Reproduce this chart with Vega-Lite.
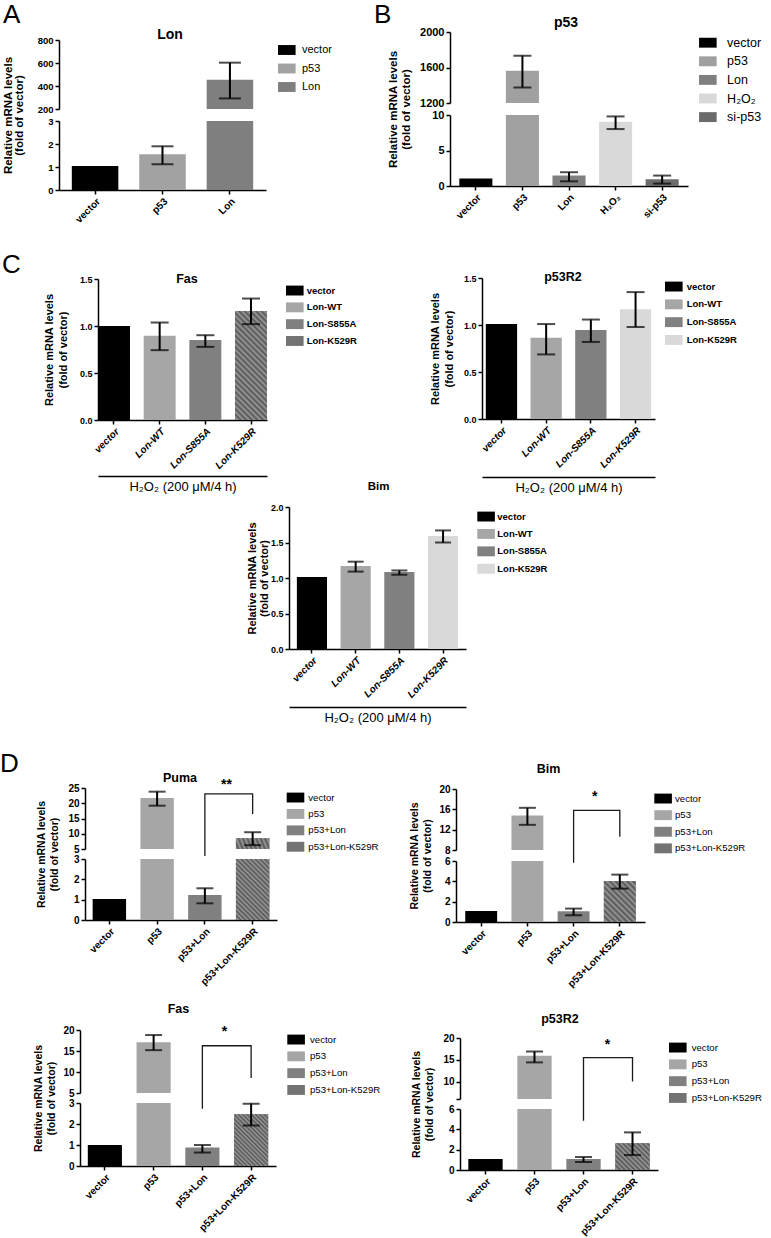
{
"$schema":"https://vega.github.io/schema/vega-lite/v6.json",
"background":"white",
"padding":0,
"config":{
 "font":"Liberation Sans",
 "view":{"stroke":null},
 "axis":{"grid":false,"domainColor":"#000000","domainWidth":1.5,"tickColor":"#000000","tickWidth":1.5,"tickSize":4,"labelColor":"#000000","labelFont":"Liberation Sans","labelFontWeight":"bold","labelFontSize":10,"labelPadding":2,"titleColor":"#000000","titleFont":"Liberation Sans","titleFontWeight":"bold","titleFontSize":11,"titleLineHeight":13,"labelOverlap":false},
 "legend":{"labelColor":"#000000","labelFont":"Liberation Sans","symbolStrokeWidth":0,"symbolOpacity":1,"labelLimit":300,"padding":0},
 "title":{"color":"#000000","font":"Liberation Sans","fontWeight":"bold","fontSize":13,"anchor":"middle","frame":"group","baseline":"alphabetic"},
 "bar":{"stroke":null},
 "tick":{"color":"#000000"},
 "rule":{"color":"#000000"},
 "text":{"font":"Liberation Sans","color":"#000000"}
},
"datasets":{
"A":[{"g":"vector","v":1.04},{"g":"p53","v":1.55,"lo":1.12,"hi":1.9},{"g":"Lon","v":454,"lo":292,"hi":603}],
"B":[{"g":"vector","v":1.05},{"g":"p53","v":1564,"lo":1376,"hi":1733},{"g":"Lon","v":1.47,"lo":0.66,"hi":1.94},{"g":"H₂O₂","v":9.05,"lo":8.02,"hi":9.8},{"g":"si-p53","v":0.95,"lo":0.34,"hi":1.47}],
"CFas":[{"g":"vector","v":1.0},{"g":"Lon-WT","v":0.895,"lo":0.743,"hi":1.037},{"g":"Lon-S855A","v":0.852,"lo":0.778,"hi":0.902},{"g":"Lon-K529R","v":1.16,"lo":1.02,"hi":1.292}],
"Cp53R2":[{"g":"vector","v":1.01},{"g":"Lon-WT","v":0.864,"lo":0.687,"hi":1.01},{"g":"Lon-S855A","v":0.948,"lo":0.82,"hi":1.058},{"g":"Lon-K529R","v":1.167,"lo":0.979,"hi":1.35}],
"CBim":[{"g":"vector","v":1.013},{"g":"Lon-WT","v":1.17,"lo":1.09,"hi":1.23},{"g":"Lon-S855A","v":1.085,"lo":1.046,"hi":1.106},{"g":"Lon-K529R","v":1.59,"lo":1.5,"hi":1.67}],
"Puma":[{"g":"vector","v":1.03},{"g":"p53","v":21.7,"lo":19.2,"hi":23.8},{"g":"p53+Lon","v":1.23,"lo":0.82,"hi":1.56},{"g":"p53+Lon-K529R","v":8.55,"lo":6.25,"hi":10.5}],
"PumaBr":[{"g":"p53+Lon","y":2.7,"o":1},{"g":"p53+Lon","y":23.1,"o":2},{"g":"p53+Lon-K529R","y":23.1,"o":3},{"g":"p53+Lon-K529R","y":16.5,"o":4}],
"PumaSig":[{"g":"p53+Lon","y":25.9,"t":"**"}],
"DBim":[{"g":"vector","v":1.08},{"g":"p53","v":14.8,"lo":12.95,"hi":16.3},{"g":"p53+Lon","v":1.05,"lo":0.66,"hi":1.32},{"g":"p53+Lon-K529R","v":4.03,"lo":3.28,"hi":4.66}],
"DBimBr":[{"g":"p53+Lon","y":5.5,"o":1},{"g":"p53+Lon","y":15.8,"o":2},{"g":"p53+Lon-K529R","y":15.8,"o":3},{"g":"p53+Lon-K529R","y":10.6,"o":4}],
"DBimSig":[{"g":"p53+Lon","y":18.5,"t":"*"}],
"DFas":[{"g":"vector","v":1.0},{"g":"p53","v":17.06,"lo":15.2,"hi":18.8},{"g":"p53+Lon","v":0.88,"lo":0.64,"hi":1.0},{"g":"p53+Lon-K529R","v":2.47,"lo":1.93,"hi":2.97}],
"DFasBr":[{"g":"p53+Lon","y":1.27,"o":1},{"g":"p53+Lon","y":16.25,"o":2},{"g":"p53+Lon-K529R","y":16.25,"o":3},{"g":"p53+Lon-K529R","y":8.6,"o":4}],
"DFasSig":[{"g":"p53+Lon","y":19.5,"t":"*"}],
"Dp53R2":[{"g":"vector","v":1.08},{"g":"p53","v":15.9,"lo":14.4,"hi":16.9},{"g":"p53+Lon","v":1.08,"lo":0.79,"hi":1.28},{"g":"p53+Lon-K529R","v":2.62,"lo":1.47,"hi":3.7}],
"Dp53R2Br":[{"g":"p53+Lon","y":1.0,"o":1},{"g":"p53+Lon","y":15.5,"o":2},{"g":"p53+Lon-K529R","y":15.5,"o":3},{"g":"p53+Lon-K529R","y":10.0,"o":4}],
"Dp53R2Sig":[{"g":"p53+Lon","y":18.3,"t":"*"}]
},
"bounds":"flush","spacing":0,"columns":2,"align":"each",
"resolve":{"scale":{"color":"independent"}},
"concat":[
{"width":2,"height":2,"data":{"values":[{"t":"A"}]},"mark":{"type":"text","fontSize":26,"align":"left","baseline":"alphabetic","dx":2,"dy":22},"encoding":{"text":{"field":"t"}}},
{"width":2,"height":2,"data":{"values":[{"t":"B"}]},"mark":{"type":"text","fontSize":26,"align":"left","baseline":"alphabetic","dx":-77,"dy":22},"encoding":{"text":{"field":"t"}}},

{"width":266,"height":107,"data":{"name":"A"},
 "title":{"text":"Lon","fontSize":14,"offset":-40.1,"dx":37},
 "encoding":{"x":{"field":"g","type":"nominal","sort":null,"scale":{"domain":["vector","p53","Lon"],"range":[59,266],"paddingInner":0.31,"paddingOuter":0.19},"axis":null}},
 "layer":[
  {"mark":{"type":"bar","clip":true},"encoding":{"y":{"field":"v","type":"quantitative","scale":{"domain":[200,800],"range":[107,38],"nice":false,"zero":false},"axis":{"values":[200,400,600,800],"tickCount":20,"format":"d","labelOverlap":false,"title":null,"labelFontSize":9.5,"offset":-59}},
    "color":{"field":"g","type":"nominal","title":null,"scale":{"domain":["vector","p53","Lon"],"range":["#000000","#a2a2a2","#7f7f7f"]},"legend":{"orient":"none","legendX":281.3,"legendY":42.5,"rowPadding":6.5,"labelOffset":9.7,"labelFontSize":11,"labelFontWeight":"normal","symbolType":"M-1.6,-0.9H1.6V0.9H-1.6Z","symbolSize":121}}}},
  {"mark":{"type":"rule","clip":true,"strokeWidth":2},"encoding":{"y":{"field":"lo","type":"quantitative","scale":{"domain":[200,800],"range":[107,38],"nice":false,"zero":false}},"y2":{"field":"hi"}}},
  {"mark":{"type":"tick","clip":true,"thickness":2,"size":22},"encoding":{"y":{"field":"lo","type":"quantitative","scale":{"domain":[200,800],"range":[107,38],"nice":false,"zero":false}}}},
  {"mark":{"type":"tick","clip":true,"thickness":2,"size":22},"encoding":{"y":{"field":"hi","type":"quantitative","scale":{"domain":[200,800],"range":[107,38],"nice":false,"zero":false}}}}
 ]},
{"width":238,"height":101,"data":{"name":"B"},
 "title":{"text":"p53","fontSize":14,"offset":-27.8,"dx":-3},
 "encoding":{"x":{"field":"g","type":"nominal","sort":null,"scale":{"domain":["vector","p53","Lon","H₂O₂","si-p53"],"range":[0,238],"paddingInner":0.29,"paddingOuter":0.2},"axis":null}},
 "layer":[
  {"mark":{"type":"bar","clip":true},"encoding":{"y":{"field":"v","type":"quantitative","scale":{"domain":[1200,2000],"range":[101,30],"nice":false,"zero":false},"axis":{"values":[1200,1600,2000],"tickCount":20,"format":"d","labelOverlap":false,"title":null,"labelFontSize":11}},
    "color":{"field":"g","type":"nominal","title":null,"scale":{"domain":["vector","p53","Lon","H₂O₂","si-p53"],"range":["#000000","#a0a0a0","#7f7f7f","#d9d9d9","#6b6b6b"]},"legend":{"orient":"none","legendX":251.6,"legendY":34.45,"rowPadding":5.6,"labelOffset":13,"labelFontSize":12.5,"labelFontWeight":"normal","symbolType":"M-1.6,-0.9H1.6V0.9H-1.6Z","symbolSize":121}}}},
  {"mark":{"type":"rule","clip":true,"strokeWidth":2},"encoding":{"y":{"field":"lo","type":"quantitative","scale":{"domain":[1200,2000],"range":[101,30],"nice":false,"zero":false}},"y2":{"field":"hi"}}},
  {"mark":{"type":"tick","clip":true,"thickness":2,"size":18},"encoding":{"y":{"field":"lo","type":"quantitative","scale":{"domain":[1200,2000],"range":[101,30],"nice":false,"zero":false}}}},
  {"mark":{"type":"tick","clip":true,"thickness":2,"size":18},"encoding":{"y":{"field":"hi","type":"quantitative","scale":{"domain":[1200,2000],"range":[101,30],"nice":false,"zero":false}}}}
 ]},

{"width":266,"height":81,"data":{"name":"A"},
 "encoding":{"x":{"field":"g","type":"nominal","sort":null,"scale":{"domain":["vector","p53","Lon"],"range":[59,266],"paddingInner":0.31,"paddingOuter":0.19},"axis":{"labelAngle":-45,"title":null,"labelFontSize":10}}},
 "layer":[
  {"mark":{"type":"bar"},"encoding":{"y":{"field":"v","type":"quantitative","scale":{"domain":[0,3],"range":[81,12],"nice":false,"clamp":true},"axis":{"values":[0,1,2,3],"tickCount":20,"format":"d","labelOverlap":false,"labelFontSize":9.5,"offset":-59,"title":["Relative mRNA levels","(fold of vector)"],"titleX":-46,"titleY":6,"titleFontSize":11.5,"titleLineHeight":11}},
    "color":{"field":"g","type":"nominal","scale":{"domain":["vector","p53","Lon"],"range":["#000000","#a2a2a2","#7f7f7f"]},"legend":null}}},
  {"transform":[{"filter":"datum.hi <= 3"}],"mark":{"type":"rule","strokeWidth":2},"encoding":{"y":{"field":"lo","type":"quantitative","scale":{"domain":[0,3],"range":[81,12],"nice":false,"clamp":true}},"y2":{"field":"hi"}}},
  {"transform":[{"filter":"datum.hi <= 3"}],"mark":{"type":"tick","thickness":2,"size":22},"encoding":{"y":{"field":"lo","type":"quantitative","scale":{"domain":[0,3],"range":[81,12],"nice":false,"clamp":true}}}},
  {"transform":[{"filter":"datum.hi <= 3"}],"mark":{"type":"tick","thickness":2,"size":22},"encoding":{"y":{"field":"hi","type":"quantitative","scale":{"domain":[0,3],"range":[81,12],"nice":false,"clamp":true}}}}
 ]},
{"width":238,"height":77,"data":{"name":"B"},
 "encoding":{"x":{"field":"g","type":"nominal","sort":null,"scale":{"domain":["vector","p53","Lon","H₂O₂","si-p53"],"range":[0,238],"paddingInner":0.29,"paddingOuter":0.2},"axis":{"labelAngle":-45,"title":null,"labelFontSize":10}}},
 "layer":[
  {"mark":{"type":"bar"},"encoding":{"y":{"field":"v","type":"quantitative","scale":{"domain":[0,10],"range":[77,6],"nice":false,"clamp":true},"axis":{"values":[0,5,10],"tickCount":20,"format":"d","labelOverlap":false,"labelFontSize":11,"title":["Relative mRNA levels","(fold of vector)"],"titleX":-51.5,"titleY":0,"titleFontSize":11.5}},
    "color":{"field":"g","type":"nominal","scale":{"domain":["vector","p53","Lon","H₂O₂","si-p53"],"range":["#000000","#a0a0a0","#7f7f7f","#d9d9d9","#6b6b6b"]},"legend":null}}},
  {"transform":[{"filter":"datum.hi <= 10"}],"mark":{"type":"rule","strokeWidth":2},"encoding":{"y":{"field":"lo","type":"quantitative","scale":{"domain":[0,10],"range":[77,6],"nice":false,"clamp":true}},"y2":{"field":"hi"}}},
  {"transform":[{"filter":"datum.hi <= 10"}],"mark":{"type":"tick","thickness":2,"size":18},"encoding":{"y":{"field":"lo","type":"quantitative","scale":{"domain":[0,10],"range":[77,6],"nice":false,"clamp":true}}}},
  {"transform":[{"filter":"datum.hi <= 10"}],"mark":{"type":"tick","thickness":2,"size":18},"encoding":{"y":{"field":"hi","type":"quantitative","scale":{"domain":[0,10],"range":[77,6],"nice":false,"clamp":true}}}}
 ]},

{"width":2,"height":2,"data":{"values":[{"t":"C"}]},"mark":{"type":"text","fontSize":26,"align":"left","baseline":"alphabetic","dx":1,"dy":82},"encoding":{"text":{"field":"t"}}},
{"width":1,"height":1,"data":{"values":[]},"mark":"point"},

{"width":267,"height":228,"data":{"name":"CFas"},
 "title":{"text":"Fas","fontSize":12.5,"offset":-93.8,"dx":53.5},
 "resolve":{"axis":{"x":"independent"}},
 "layer":[
  {"encoding":{"x":{"field":"g","type":"nominal","sort":null,"scale":{"domain":["vector","Lon-WT","Lon-S855A","Lon-K529R"],"range":[98,267],"paddingInner":0.3,"paddingOuter":0},"axis":{"labelAngle":-45,"title":null,"labelFontSize":10,"labelFontStyle":"italic"}}},
   "layer":[
    {"mark":{"type":"bar"},"encoding":{"y":{"field":"v","type":"quantitative","scale":{"domain":[0,1.5],"range":[228,87],"nice":false},"axis":{"values":[0,0.5,1,1.5],"tickCount":20,"labelOverlap":false,"format":".1f","labelFontSize":9,"offset":-98,"title":["Relative mRNA levels","(fold of vector)"],"titleX":-43.5,"titleFontSize":11,"titleLineHeight":13.5}},
      "color":{"field":"g","type":"nominal","title":null,"scale":{"domain":["vector","Lon-WT","Lon-S855A","Lon-K529R"],"range":["#000000","#a6a6a6","#808080","#737373"]},"legend":{"orient":"none","legendX":289.3,"legendY":93.05,"rowPadding":5.8,"labelOffset":6.4,"labelFontSize":9.5,"labelFontWeight":"bold","symbolType":"M-1.6,-0.9H1.6V0.9H-1.6Z","symbolSize":121}}}},
    {"transform":[{"filter":"datum.g == 'Lon-K529R'"}],"mark":{"type":"bar","color":{"gradient":"linear","x1":0,"y1":1,"x2":0.3496,"y2":-0.1909,"stops":[{"offset":0,"color":"#555"},{"offset":0.02,"color":"#999"},{"offset":0.04,"color":"#555"},{"offset":0.06,"color":"#999"},{"offset":0.08,"color":"#555"},{"offset":0.1,"color":"#999"},{"offset":0.12,"color":"#555"},{"offset":0.14,"color":"#999"},{"offset":0.16,"color":"#555"},{"offset":0.18,"color":"#999"},{"offset":0.2,"color":"#555"},{"offset":0.22,"color":"#999"},{"offset":0.24,"color":"#555"},{"offset":0.26,"color":"#999"},{"offset":0.28,"color":"#555"},{"offset":0.3,"color":"#999"},{"offset":0.32,"color":"#555"},{"offset":0.34,"color":"#999"},{"offset":0.36,"color":"#555"},{"offset":0.38,"color":"#999"},{"offset":0.4,"color":"#555"},{"offset":0.42,"color":"#999"},{"offset":0.44,"color":"#555"},{"offset":0.46,"color":"#999"},{"offset":0.48,"color":"#555"},{"offset":0.5,"color":"#999"},{"offset":0.52,"color":"#555"},{"offset":0.54,"color":"#999"},{"offset":0.56,"color":"#555"},{"offset":0.58,"color":"#999"},{"offset":0.6,"color":"#555"},{"offset":0.62,"color":"#999"},{"offset":0.64,"color":"#555"},{"offset":0.66,"color":"#999"},{"offset":0.68,"color":"#555"},{"offset":0.7,"color":"#999"},{"offset":0.72,"color":"#555"},{"offset":0.74,"color":"#999"},{"offset":0.76,"color":"#555"},{"offset":0.78,"color":"#999"},{"offset":0.8,"color":"#555"},{"offset":0.82,"color":"#999"},{"offset":0.84,"color":"#555"},{"offset":0.86,"color":"#999"},{"offset":0.88,"color":"#555"},{"offset":0.9,"color":"#999"},{"offset":0.92,"color":"#555"},{"offset":0.94,"color":"#999"},{"offset":0.96,"color":"#555"},{"offset":0.98,"color":"#999"},{"offset":1,"color":"#555"}]}},
     "encoding":{"y":{"field":"v","type":"quantitative","scale":{"domain":[0,1.5],"range":[228,87],"nice":false}}}},
    {"mark":{"type":"tick","thickness":2,"size":18},"encoding":{"y":{"field":"lo","type":"quantitative","scale":{"domain":[0,1.5],"range":[228,87],"nice":false}}}},
    {"mark":{"type":"tick","thickness":2,"size":18},"encoding":{"y":{"field":"hi","type":"quantitative","scale":{"domain":[0,1.5],"range":[228,87],"nice":false}}}}
   ]},
  {"mark":{"type":"rule","strokeWidth":2},"encoding":{"x":{"field":"g","type":"nominal","sort":null,"scale":{"domain":["vector","Lon-WT","Lon-S855A","Lon-K529R"],"range":[98,267],"paddingInner":0.3,"paddingOuter":0},"axis":{"orient":"bottom","offset":56,"labels":false,"ticks":false,"title":"H₂O₂ (200 μM/4 h)","titleFontWeight":"normal","titleFontSize":13,"titlePadding":4}},
    "y":{"field":"lo","type":"quantitative","scale":{"domain":[0,1.5],"range":[228,87],"nice":false}},"y2":{"field":"hi"}}}
 ]},
{"width":205,"height":227,"data":{"name":"Cp53R2"},
 "title":{"text":"p53R2","fontSize":12.5,"offset":-91.5,"dx":10.5},
 "resolve":{"axis":{"x":"independent"}},
 "layer":[
  {"encoding":{"x":{"field":"g","type":"nominal","sort":null,"scale":{"domain":["vector","Lon-WT","Lon-S855A","Lon-K529R"],"range":[32,205],"paddingInner":0.3,"paddingOuter":0.085},"axis":{"labelAngle":-45,"title":null,"labelFontSize":10,"labelFontStyle":"italic"}}},
   "layer":[
    {"mark":{"type":"bar"},"encoding":{"y":{"field":"v","type":"quantitative","scale":{"domain":[0,1.5],"range":[227,86],"nice":false},"axis":{"values":[0,0.5,1,1.5],"tickCount":20,"labelOverlap":false,"format":".1f","labelFontSize":9,"offset":-32,"title":["Relative mRNA levels","(fold of vector)"],"titleX":-41.5,"titleFontSize":11,"titleLineHeight":13.5}},
      "color":{"field":"g","type":"nominal","title":null,"scale":{"domain":["vector","Lon-WT","Lon-S855A","Lon-K529R"],"range":["#000000","#a6a6a6","#808080","#d9d9d9"]},"legend":{"orient":"none","legendX":218.3,"legendY":89.05,"rowPadding":6.8,"labelOffset":7.4,"labelFontSize":9.5,"labelFontWeight":"bold","symbolType":"M-1.6,-0.9H1.6V0.9H-1.6Z","symbolSize":121}}}},
    {"mark":{"type":"tick","thickness":2,"size":18},"encoding":{"y":{"field":"lo","type":"quantitative","scale":{"domain":[0,1.5],"range":[227,86],"nice":false}}}},
    {"mark":{"type":"tick","thickness":2,"size":18},"encoding":{"y":{"field":"hi","type":"quantitative","scale":{"domain":[0,1.5],"range":[227,86],"nice":false}}}}
   ]},
  {"mark":{"type":"rule","strokeWidth":2},"encoding":{"x":{"field":"g","type":"nominal","sort":null,"scale":{"domain":["vector","Lon-WT","Lon-S855A","Lon-K529R"],"range":[32,205],"paddingInner":0.3,"paddingOuter":0.085},"axis":{"orient":"bottom","offset":58,"labels":false,"ticks":false,"title":"H₂O₂ (200 μM/4 h)","titleFontWeight":"normal","titleFontSize":13,"titlePadding":4}},
    "y":{"field":"lo","type":"quantitative","scale":{"domain":[0,1.5],"range":[227,86],"nice":false}},"y2":{"field":"hi"}}}
 ]},

{"width":450,"height":229,"data":{"name":"CBim"},
 "title":{"text":"Bim","fontSize":11.5,"offset":-72.3,"dx":153.5},
 "resolve":{"axis":{"x":"independent"}},
 "layer":[
  {"encoding":{"x":{"field":"g","type":"nominal","sort":null,"scale":{"domain":["vector","Lon-WT","Lon-S855A","Lon-K529R"],"range":[289,466],"paddingInner":0.31,"paddingOuter":0.18},"axis":{"labelAngle":-45,"title":null,"labelFontSize":10,"labelFontStyle":"italic"}}},
   "layer":[
    {"mark":{"type":"bar"},"encoding":{"y":{"field":"v","type":"quantitative","scale":{"domain":[0,2],"range":[229,87],"nice":false},"axis":{"values":[0,0.5,1,1.5,2],"tickCount":20,"labelOverlap":false,"format":".1f","labelFontSize":9,"offset":-289,"title":["Relative mRNA levels","(fold of vector)"],"titleX":-31.8,"titleFontSize":11,"titleLineHeight":12}},
      "color":{"field":"g","type":"nominal","title":null,"scale":{"domain":["vector","Lon-WT","Lon-S855A","Lon-K529R"],"range":["#000000","#a6a6a6","#808080","#d9d9d9"]},"legend":{"orient":"none","legendX":480.6,"legendY":91.05,"rowPadding":6.4,"labelOffset":5.7,"labelFontSize":9.5,"labelFontWeight":"bold","symbolType":"M-1.6,-0.9H1.6V0.9H-1.6Z","symbolSize":121}}}},
    {"mark":{"type":"tick","thickness":2,"size":16},"encoding":{"y":{"field":"lo","type":"quantitative","scale":{"domain":[0,2],"range":[229,87],"nice":false}}}},
    {"mark":{"type":"tick","thickness":2,"size":16},"encoding":{"y":{"field":"hi","type":"quantitative","scale":{"domain":[0,2],"range":[229,87],"nice":false}}}}
   ]},
  {"mark":{"type":"rule","strokeWidth":2},"encoding":{"x":{"field":"g","type":"nominal","sort":null,"scale":{"domain":["vector","Lon-WT","Lon-S855A","Lon-K529R"],"range":[289,466],"paddingInner":0.31,"paddingOuter":0.18},"axis":{"orient":"bottom","offset":58,"labels":false,"ticks":false,"title":"H₂O₂ (200 μM/4 h)","titleFontWeight":"normal","titleFontSize":13,"titlePadding":4}},
    "y":{"field":"lo","type":"quantitative","scale":{"domain":[0,2],"range":[229,87],"nice":false}},"y2":{"field":"hi"}}}
 ]},
{"width":1,"height":1,"data":{"values":[]},"mark":"point"},

{"width":2,"height":2,"data":{"values":[{"t":"D"}]},"mark":{"type":"text","fontSize":26,"align":"left","baseline":"alphabetic","dx":-1,"dy":122},"encoding":{"text":{"field":"t"}}},
{"width":1,"height":1,"data":{"values":[]},"mark":"point"},

{"width":277,"height":198,"data":{"name":"Puma"},
 "title":{"text":"Puma","fontSize":12.5,"offset":-133.8,"dx":41.5},
 "encoding":{"x":{"field":"g","type":"nominal","sort":null,"scale":{"domain":["vector","p53","p53+Lon","p53+Lon-K529R"],"range":[85,277],"paddingInner":0.3,"paddingOuter":0.16},"axis":null}},
 "layer":[
  {"mark":{"type":"bar","clip":true},"encoding":{"y":{"field":"v","type":"quantitative","scale":{"domain":[5,25],"range":[198,137],"nice":false,"zero":false},"axis":{"values":[5,10,15,20,25],"tickCount":20,"format":"d","labelOverlap":false,"title":null,"labelFontSize":10,"offset":-85}},
    "color":{"field":"g","type":"nominal","title":null,"scale":{"domain":["vector","p53","p53+Lon","p53+Lon-K529R"],"range":["#000000","#a6a6a6","#808080","#737373"]},"legend":{"orient":"none","legendX":290,"legendY":141.05,"rowPadding":5.4,"labelOffset":7.3,"labelFontSize":9.6,"labelFontWeight":"normal","symbolType":"M-1.6,-0.9H1.6V0.9H-1.6Z","symbolSize":121}}}},
  {"transform":[{"filter":"datum.g == 'p53+Lon-K529R'"}],"mark":{"type":"bar","clip":true,"color":{"gradient":"linear","x1":0,"y1":1,"x2":1.1981,"y2":0.6126,"stops":[{"offset":0,"color":"#555"},{"offset":0.05,"color":"#999"},{"offset":0.1,"color":"#555"},{"offset":0.15,"color":"#999"},{"offset":0.2,"color":"#555"},{"offset":0.25,"color":"#999"},{"offset":0.3,"color":"#555"},{"offset":0.35,"color":"#999"},{"offset":0.4,"color":"#555"},{"offset":0.45,"color":"#999"},{"offset":0.5,"color":"#555"},{"offset":0.55,"color":"#999"},{"offset":0.6,"color":"#555"},{"offset":0.65,"color":"#999"},{"offset":0.7,"color":"#555"},{"offset":0.75,"color":"#999"},{"offset":0.8,"color":"#555"},{"offset":0.85,"color":"#999"},{"offset":0.9,"color":"#555"},{"offset":0.95,"color":"#999"},{"offset":1,"color":"#555"}]}},
   "encoding":{"y":{"field":"v","type":"quantitative","scale":{"domain":[5,25],"range":[198,137],"nice":false,"zero":false}}}},
  {"mark":{"type":"rule","clip":true,"strokeWidth":2},"encoding":{"y":{"field":"lo","type":"quantitative","scale":{"domain":[5,25],"range":[198,137],"nice":false,"zero":false}},"y2":{"field":"hi"}}},
  {"mark":{"type":"tick","clip":true,"thickness":2,"size":17},"encoding":{"y":{"field":"lo","type":"quantitative","scale":{"domain":[5,25],"range":[198,137],"nice":false,"zero":false}}}},
  {"mark":{"type":"tick","clip":true,"thickness":2,"size":17},"encoding":{"y":{"field":"hi","type":"quantitative","scale":{"domain":[5,25],"range":[198,137],"nice":false,"zero":false}}}},
  {"data":{"name":"PumaBr"},"mark":{"type":"line","strokeWidth":1.3,"color":"#1a1a1a"},"encoding":{"y":{"field":"y","type":"quantitative","scale":{"domain":[5,25],"range":[198,137],"nice":false,"zero":false}},"order":{"field":"o","type":"quantitative"}}},
  {"data":{"name":"PumaSig"},"mark":{"type":"text","fontSize":14,"fontWeight":"bold","dx":21.5,"baseline":"middle"},"encoding":{"y":{"field":"y","type":"quantitative","scale":{"domain":[5,25],"range":[198,137],"nice":false,"zero":false}},"text":{"field":"t"}}}
 ]},
{"width":195,"height":199,"data":{"name":"DBim"},
 "title":{"text":"Bim","fontSize":12.5,"offset":-124.2,"dx":1},
 "encoding":{"x":{"field":"g","type":"nominal","sort":null,"scale":{"domain":["vector","p53","p53+Lon","p53+Lon-K529R"],"range":[6,195],"paddingInner":0.31,"paddingOuter":0.2},"axis":null}},
 "layer":[
  {"mark":{"type":"bar","clip":true},"encoding":{"y":{"field":"v","type":"quantitative","scale":{"domain":[8,20],"range":[199,138],"nice":false,"zero":false},"axis":{"values":[8,12,16,20],"tickCount":20,"format":"d","labelOverlap":false,"title":null,"labelFontSize":10,"offset":-6}},
    "color":{"field":"g","type":"nominal","title":null,"scale":{"domain":["vector","p53","p53+Lon","p53+Lon-K529R"],"range":["#000000","#a6a6a6","#808080","#737373"]},"legend":{"orient":"none","legendX":207.6,"legendY":142.05,"rowPadding":5.6,"labelOffset":6.4,"labelFontSize":9.6,"labelFontWeight":"normal","symbolType":"M-1.6,-0.9H1.6V0.9H-1.6Z","symbolSize":121}}}},
  {"mark":{"type":"rule","clip":true,"strokeWidth":2},"encoding":{"y":{"field":"lo","type":"quantitative","scale":{"domain":[8,20],"range":[199,138],"nice":false,"zero":false}},"y2":{"field":"hi"}}},
  {"mark":{"type":"tick","clip":true,"thickness":2,"size":17},"encoding":{"y":{"field":"lo","type":"quantitative","scale":{"domain":[8,20],"range":[199,138],"nice":false,"zero":false}}}},
  {"mark":{"type":"tick","clip":true,"thickness":2,"size":17},"encoding":{"y":{"field":"hi","type":"quantitative","scale":{"domain":[8,20],"range":[199,138],"nice":false,"zero":false}}}},
  {"data":{"name":"DBimBr"},"mark":{"type":"line","strokeWidth":1.3,"color":"#1a1a1a"},"encoding":{"y":{"field":"y","type":"quantitative","scale":{"domain":[8,20],"range":[199,138],"nice":false,"zero":false}},"order":{"field":"o","type":"quantitative"}}},
  {"data":{"name":"DBimSig"},"mark":{"type":"text","fontSize":14,"fontWeight":"bold","dx":21.2,"baseline":"middle"},"encoding":{"y":{"field":"y","type":"quantitative","scale":{"domain":[8,20],"range":[199,138],"nice":false,"zero":false}},"text":{"field":"t"}}}
 ]},

{"width":277,"height":70,"data":{"name":"Puma"},
 "encoding":{"x":{"field":"g","type":"nominal","sort":null,"scale":{"domain":["vector","p53","p53+Lon","p53+Lon-K529R"],"range":[85,277],"paddingInner":0.3,"paddingOuter":0.16},"axis":{"labelAngle":-45,"title":null,"labelFontSize":10}}},
 "layer":[
  {"mark":{"type":"bar"},"encoding":{"y":{"field":"v","type":"quantitative","scale":{"domain":[0,3],"range":[70,9],"nice":false,"clamp":true},"axis":{"values":[0,1,2,3],"tickCount":20,"format":"d","labelOverlap":false,"labelFontSize":10,"offset":-85,"title":["Relative mRNA levels","(fold of vector)"],"titleX":-38.5,"titleY":4,"titleFontSize":10.5}},
    "color":{"field":"g","type":"nominal","scale":{"domain":["vector","p53","p53+Lon","p53+Lon-K529R"],"range":["#000000","#a6a6a6","#808080","#737373"]},"legend":null}}},
  {"transform":[{"filter":"datum.g == 'p53+Lon-K529R'"}],"mark":{"type":"bar","color":{"gradient":"linear","x1":0,"y1":1,"x2":0.6519,"y2":-0.1906,"stops":[{"offset":0,"color":"#555"},{"offset":0.025,"color":"#999"},{"offset":0.05,"color":"#555"},{"offset":0.075,"color":"#999"},{"offset":0.1,"color":"#555"},{"offset":0.125,"color":"#999"},{"offset":0.15,"color":"#555"},{"offset":0.175,"color":"#999"},{"offset":0.2,"color":"#555"},{"offset":0.225,"color":"#999"},{"offset":0.25,"color":"#555"},{"offset":0.275,"color":"#999"},{"offset":0.3,"color":"#555"},{"offset":0.325,"color":"#999"},{"offset":0.35,"color":"#555"},{"offset":0.375,"color":"#999"},{"offset":0.4,"color":"#555"},{"offset":0.425,"color":"#999"},{"offset":0.45,"color":"#555"},{"offset":0.475,"color":"#999"},{"offset":0.5,"color":"#555"},{"offset":0.525,"color":"#999"},{"offset":0.55,"color":"#555"},{"offset":0.575,"color":"#999"},{"offset":0.6,"color":"#555"},{"offset":0.625,"color":"#999"},{"offset":0.65,"color":"#555"},{"offset":0.675,"color":"#999"},{"offset":0.7,"color":"#555"},{"offset":0.725,"color":"#999"},{"offset":0.75,"color":"#555"},{"offset":0.775,"color":"#999"},{"offset":0.8,"color":"#555"},{"offset":0.825,"color":"#999"},{"offset":0.85,"color":"#555"},{"offset":0.875,"color":"#999"},{"offset":0.9,"color":"#555"},{"offset":0.925,"color":"#999"},{"offset":0.95,"color":"#555"},{"offset":0.975,"color":"#999"},{"offset":1,"color":"#555"}]}},
   "encoding":{"y":{"field":"v","type":"quantitative","scale":{"domain":[0,3],"range":[70,9],"nice":false,"clamp":true}}}},
  {"transform":[{"filter":"datum.hi <= 3"}],"mark":{"type":"rule","strokeWidth":2},"encoding":{"y":{"field":"lo","type":"quantitative","scale":{"domain":[0,3],"range":[70,9],"nice":false,"clamp":true}},"y2":{"field":"hi"}}},
  {"transform":[{"filter":"datum.hi <= 3"}],"mark":{"type":"tick","thickness":2,"size":17},"encoding":{"y":{"field":"lo","type":"quantitative","scale":{"domain":[0,3],"range":[70,9],"nice":false,"clamp":true}}}},
  {"transform":[{"filter":"datum.hi <= 3"}],"mark":{"type":"tick","thickness":2,"size":17},"encoding":{"y":{"field":"hi","type":"quantitative","scale":{"domain":[0,3],"range":[70,9],"nice":false,"clamp":true}}}}
 ]},
{"width":195,"height":72,"data":{"name":"DBim"},
 "encoding":{"x":{"field":"g","type":"nominal","sort":null,"scale":{"domain":["vector","p53","p53+Lon","p53+Lon-K529R"],"range":[6,195],"paddingInner":0.31,"paddingOuter":0.2},"axis":{"labelAngle":-45,"title":null,"labelFontSize":10}}},
 "layer":[
  {"mark":{"type":"bar"},"encoding":{"y":{"field":"v","type":"quantitative","scale":{"domain":[0,6],"range":[72,11],"nice":false,"clamp":true},"axis":{"values":[0,2,4,6],"tickCount":20,"format":"d","labelOverlap":false,"labelFontSize":10,"offset":-6,"title":["Relative mRNA levels","(fold of vector)"],"titleX":-36.5,"titleY":5.5,"titleFontSize":10.5}},
    "color":{"field":"g","type":"nominal","scale":{"domain":["vector","p53","p53+Lon","p53+Lon-K529R"],"range":["#000000","#a6a6a6","#808080","#737373"]},"legend":null}}},
  {"transform":[{"filter":"datum.g == 'p53+Lon-K529R'"}],"mark":{"type":"bar","color":{"gradient":"linear","x1":0,"y1":1,"x2":0.8618,"y2":-0.1076,"stops":[{"offset":0,"color":"#555"},{"offset":0.04,"color":"#999"},{"offset":0.08,"color":"#555"},{"offset":0.12,"color":"#999"},{"offset":0.16,"color":"#555"},{"offset":0.2,"color":"#999"},{"offset":0.24,"color":"#555"},{"offset":0.28,"color":"#999"},{"offset":0.32,"color":"#555"},{"offset":0.36,"color":"#999"},{"offset":0.4,"color":"#555"},{"offset":0.44,"color":"#999"},{"offset":0.48,"color":"#555"},{"offset":0.52,"color":"#999"},{"offset":0.56,"color":"#555"},{"offset":0.6,"color":"#999"},{"offset":0.64,"color":"#555"},{"offset":0.68,"color":"#999"},{"offset":0.72,"color":"#555"},{"offset":0.76,"color":"#999"},{"offset":0.8,"color":"#555"},{"offset":0.84,"color":"#999"},{"offset":0.88,"color":"#555"},{"offset":0.92,"color":"#999"},{"offset":0.96,"color":"#555"},{"offset":1,"color":"#999"}]}},
   "encoding":{"y":{"field":"v","type":"quantitative","scale":{"domain":[0,6],"range":[72,11],"nice":false,"clamp":true}}}},
  {"transform":[{"filter":"datum.hi <= 6"}],"mark":{"type":"rule","strokeWidth":2},"encoding":{"y":{"field":"lo","type":"quantitative","scale":{"domain":[0,6],"range":[72,11],"nice":false,"clamp":true}},"y2":{"field":"hi"}}},
  {"transform":[{"filter":"datum.hi <= 6"}],"mark":{"type":"tick","thickness":2,"size":17},"encoding":{"y":{"field":"lo","type":"quantitative","scale":{"domain":[0,6],"range":[72,11],"nice":false,"clamp":true}}}},
  {"transform":[{"filter":"datum.hi <= 6"}],"mark":{"type":"tick","thickness":2,"size":17},"encoding":{"y":{"field":"hi","type":"quantitative","scale":{"domain":[0,6],"range":[72,11],"nice":false,"clamp":true}}}}
 ]},

{"width":276,"height":171,"data":{"name":"DFas"},
 "title":{"text":"Fas","fontSize":12.5,"offset":-93.8,"dx":40.5},
 "encoding":{"x":{"field":"g","type":"nominal","sort":null,"scale":{"domain":["vector","p53","p53+Lon","p53+Lon-K529R"],"range":[80,276],"paddingInner":0.3,"paddingOuter":0.16},"axis":null}},
 "layer":[
  {"mark":{"type":"bar","clip":true},"encoding":{"y":{"field":"v","type":"quantitative","scale":{"domain":[5,20],"range":[171,108],"nice":false,"zero":false},"axis":{"values":[5,10,15,20],"tickCount":20,"format":"d","labelOverlap":false,"title":null,"labelFontSize":10,"offset":-80}},
    "color":{"field":"g","type":"nominal","title":null,"scale":{"domain":["vector","p53","p53+Lon","p53+Lon-K529R"],"range":["#000000","#a6a6a6","#808080","#737373"]},"legend":{"orient":"none","legendX":290.6,"legendY":112.05,"rowPadding":5.8,"labelOffset":8.4,"labelFontSize":9.6,"labelFontWeight":"normal","symbolType":"M-1.6,-0.9H1.6V0.9H-1.6Z","symbolSize":121}}}},
  {"mark":{"type":"rule","clip":true,"strokeWidth":2},"encoding":{"y":{"field":"lo","type":"quantitative","scale":{"domain":[5,20],"range":[171,108],"nice":false,"zero":false}},"y2":{"field":"hi"}}},
  {"mark":{"type":"tick","clip":true,"thickness":2,"size":17},"encoding":{"y":{"field":"lo","type":"quantitative","scale":{"domain":[5,20],"range":[171,108],"nice":false,"zero":false}}}},
  {"mark":{"type":"tick","clip":true,"thickness":2,"size":17},"encoding":{"y":{"field":"hi","type":"quantitative","scale":{"domain":[5,20],"range":[171,108],"nice":false,"zero":false}}}},
  {"data":{"name":"DFasBr"},"mark":{"type":"line","strokeWidth":1.3,"color":"#1a1a1a"},"encoding":{"y":{"field":"y","type":"quantitative","scale":{"domain":[5,20],"range":[171,108],"nice":false,"zero":false}},"order":{"field":"o","type":"quantitative"}}},
  {"data":{"name":"DFasSig"},"mark":{"type":"text","fontSize":14,"fontWeight":"bold","dx":22.2,"baseline":"middle"},"encoding":{"y":{"field":"y","type":"quantitative","scale":{"domain":[5,20],"range":[171,108],"nice":false,"zero":false}},"text":{"field":"t"}}}
 ]},
{"width":208,"height":177,"data":{"name":"Dp53R2"},
 "title":{"text":"p53R2","fontSize":12.5,"offset":-103.8,"dx":6},
 "encoding":{"x":{"field":"g","type":"nominal","sort":null,"scale":{"domain":["vector","p53","p53+Lon","p53+Lon-K529R"],"range":[10,208],"paddingInner":0.3,"paddingOuter":0.17},"axis":null}},
 "layer":[
  {"mark":{"type":"bar","clip":true},"encoding":{"y":{"field":"v","type":"quantitative","scale":{"domain":[6,20],"range":[177,116],"nice":false,"zero":false},"axis":{"values":[6,10,15,20],"tickCount":20,"format":"d","labelOverlap":false,"labelExpr":"datum.value == 6 ? '' : datum.label","title":null,"labelFontSize":10,"offset":-10}},
    "color":{"field":"g","type":"nominal","title":null,"scale":{"domain":["vector","p53","p53+Lon","p53+Lon-K529R"],"range":["#000000","#a6a6a6","#808080","#737373"]},"legend":{"orient":"none","legendX":222.3,"legendY":120.05,"rowPadding":5.8,"labelOffset":8.4,"labelFontSize":9.6,"labelFontWeight":"normal","symbolType":"M-1.6,-0.9H1.6V0.9H-1.6Z","symbolSize":121}}}},
  {"mark":{"type":"rule","clip":true,"strokeWidth":2},"encoding":{"y":{"field":"lo","type":"quantitative","scale":{"domain":[6,20],"range":[177,116],"nice":false,"zero":false}},"y2":{"field":"hi"}}},
  {"mark":{"type":"tick","clip":true,"thickness":2,"size":17},"encoding":{"y":{"field":"lo","type":"quantitative","scale":{"domain":[6,20],"range":[177,116],"nice":false,"zero":false}}}},
  {"mark":{"type":"tick","clip":true,"thickness":2,"size":17},"encoding":{"y":{"field":"hi","type":"quantitative","scale":{"domain":[6,20],"range":[177,116],"nice":false,"zero":false}}}},
  {"data":{"name":"Dp53R2Br"},"mark":{"type":"line","strokeWidth":1.3,"color":"#1a1a1a"},"encoding":{"y":{"field":"y","type":"quantitative","scale":{"domain":[6,20],"range":[177,116],"nice":false,"zero":false}},"order":{"field":"o","type":"quantitative"}}},
  {"data":{"name":"Dp53R2Sig"},"mark":{"type":"text","fontSize":14,"fontWeight":"bold","dx":24,"baseline":"middle"},"encoding":{"y":{"field":"y","type":"quantitative","scale":{"domain":[6,20],"range":[177,116],"nice":false,"zero":false}},"text":{"field":"t"}}}
 ]},

{"width":276,"height":67,"data":{"name":"DFas"},
 "encoding":{"x":{"field":"g","type":"nominal","sort":null,"scale":{"domain":["vector","p53","p53+Lon","p53+Lon-K529R"],"range":[80,276],"paddingInner":0.3,"paddingOuter":0.16},"axis":{"labelAngle":-45,"title":null,"labelFontSize":10}}},
 "layer":[
  {"mark":{"type":"bar"},"encoding":{"y":{"field":"v","type":"quantitative","scale":{"domain":[0,3],"range":[67,4],"nice":false,"clamp":true},"axis":{"values":[0,1,2,3],"tickCount":20,"format":"d","labelOverlap":false,"labelFontSize":10,"offset":-80,"title":["Relative mRNA levels","(fold of vector)"],"titleX":-37,"titleY":-1,"titleFontSize":10.5}},
    "color":{"field":"g","type":"nominal","scale":{"domain":["vector","p53","p53+Lon","p53+Lon-K529R"],"range":["#000000","#a6a6a6","#808080","#737373"]},"legend":null}}},
  {"transform":[{"filter":"datum.g == 'p53+Lon-K529R'"}],"mark":{"type":"bar","color":{"gradient":"linear","x1":0,"y1":1,"x2":0.7604,"y2":-0.1574,"stops":[{"offset":0,"color":"#555"},{"offset":0.025,"color":"#999"},{"offset":0.05,"color":"#555"},{"offset":0.075,"color":"#999"},{"offset":0.1,"color":"#555"},{"offset":0.125,"color":"#999"},{"offset":0.15,"color":"#555"},{"offset":0.175,"color":"#999"},{"offset":0.2,"color":"#555"},{"offset":0.225,"color":"#999"},{"offset":0.25,"color":"#555"},{"offset":0.275,"color":"#999"},{"offset":0.3,"color":"#555"},{"offset":0.325,"color":"#999"},{"offset":0.35,"color":"#555"},{"offset":0.375,"color":"#999"},{"offset":0.4,"color":"#555"},{"offset":0.425,"color":"#999"},{"offset":0.45,"color":"#555"},{"offset":0.475,"color":"#999"},{"offset":0.5,"color":"#555"},{"offset":0.525,"color":"#999"},{"offset":0.55,"color":"#555"},{"offset":0.575,"color":"#999"},{"offset":0.6,"color":"#555"},{"offset":0.625,"color":"#999"},{"offset":0.65,"color":"#555"},{"offset":0.675,"color":"#999"},{"offset":0.7,"color":"#555"},{"offset":0.725,"color":"#999"},{"offset":0.75,"color":"#555"},{"offset":0.775,"color":"#999"},{"offset":0.8,"color":"#555"},{"offset":0.825,"color":"#999"},{"offset":0.85,"color":"#555"},{"offset":0.875,"color":"#999"},{"offset":0.9,"color":"#555"},{"offset":0.925,"color":"#999"},{"offset":0.95,"color":"#555"},{"offset":0.975,"color":"#999"},{"offset":1,"color":"#555"}]}},
   "encoding":{"y":{"field":"v","type":"quantitative","scale":{"domain":[0,3],"range":[67,4],"nice":false,"clamp":true}}}},
  {"transform":[{"filter":"datum.hi <= 3"}],"mark":{"type":"rule","strokeWidth":2},"encoding":{"y":{"field":"lo","type":"quantitative","scale":{"domain":[0,3],"range":[67,4],"nice":false,"clamp":true}},"y2":{"field":"hi"}}},
  {"transform":[{"filter":"datum.hi <= 3"}],"mark":{"type":"tick","thickness":2,"size":17},"encoding":{"y":{"field":"lo","type":"quantitative","scale":{"domain":[0,3],"range":[67,4],"nice":false,"clamp":true}}}},
  {"transform":[{"filter":"datum.hi <= 3"}],"mark":{"type":"tick","thickness":2,"size":17},"encoding":{"y":{"field":"hi","type":"quantitative","scale":{"domain":[0,3],"range":[67,4],"nice":false,"clamp":true}}}}
 ]},
{"width":208,"height":71,"data":{"name":"Dp53R2"},
 "encoding":{"x":{"field":"g","type":"nominal","sort":null,"scale":{"domain":["vector","p53","p53+Lon","p53+Lon-K529R"],"range":[10,208],"paddingInner":0.3,"paddingOuter":0.17},"axis":{"labelAngle":-45,"title":null,"labelFontSize":10}}},
 "layer":[
  {"mark":{"type":"bar"},"encoding":{"y":{"field":"v","type":"quantitative","scale":{"domain":[0,6],"range":[71,10],"nice":false,"clamp":true},"axis":{"values":[0,2,4,6],"tickCount":20,"format":"d","labelOverlap":false,"labelFontSize":10,"offset":-10,"title":["Relative mRNA levels","(fold of vector)"],"titleX":-38.5,"titleY":5,"titleFontSize":10.5}},
    "color":{"field":"g","type":"nominal","scale":{"domain":["vector","p53","p53+Lon","p53+Lon-K529R"],"range":["#000000","#a6a6a6","#808080","#737373"]},"legend":null}}},
  {"transform":[{"filter":"datum.g == 'p53+Lon-K529R'"}],"mark":{"type":"bar","color":{"gradient":"linear","x1":0,"y1":1,"x2":1.1087,"y2":0.1402,"stops":[{"offset":0,"color":"#555"},{"offset":0.04,"color":"#999"},{"offset":0.08,"color":"#555"},{"offset":0.12,"color":"#999"},{"offset":0.16,"color":"#555"},{"offset":0.2,"color":"#999"},{"offset":0.24,"color":"#555"},{"offset":0.28,"color":"#999"},{"offset":0.32,"color":"#555"},{"offset":0.36,"color":"#999"},{"offset":0.4,"color":"#555"},{"offset":0.44,"color":"#999"},{"offset":0.48,"color":"#555"},{"offset":0.52,"color":"#999"},{"offset":0.56,"color":"#555"},{"offset":0.6,"color":"#999"},{"offset":0.64,"color":"#555"},{"offset":0.68,"color":"#999"},{"offset":0.72,"color":"#555"},{"offset":0.76,"color":"#999"},{"offset":0.8,"color":"#555"},{"offset":0.84,"color":"#999"},{"offset":0.88,"color":"#555"},{"offset":0.92,"color":"#999"},{"offset":0.96,"color":"#555"},{"offset":1,"color":"#999"}]}},
   "encoding":{"y":{"field":"v","type":"quantitative","scale":{"domain":[0,6],"range":[71,10],"nice":false,"clamp":true}}}},
  {"transform":[{"filter":"datum.hi <= 6"}],"mark":{"type":"rule","strokeWidth":2},"encoding":{"y":{"field":"lo","type":"quantitative","scale":{"domain":[0,6],"range":[71,10],"nice":false,"clamp":true}},"y2":{"field":"hi"}}},
  {"transform":[{"filter":"datum.hi <= 6"}],"mark":{"type":"tick","thickness":2,"size":17},"encoding":{"y":{"field":"lo","type":"quantitative","scale":{"domain":[0,6],"range":[71,10],"nice":false,"clamp":true}}}},
  {"transform":[{"filter":"datum.hi <= 6"}],"mark":{"type":"tick","thickness":2,"size":17},"encoding":{"y":{"field":"hi","type":"quantitative","scale":{"domain":[0,6],"range":[71,10],"nice":false,"clamp":true}}}}
 ]}
]
}
